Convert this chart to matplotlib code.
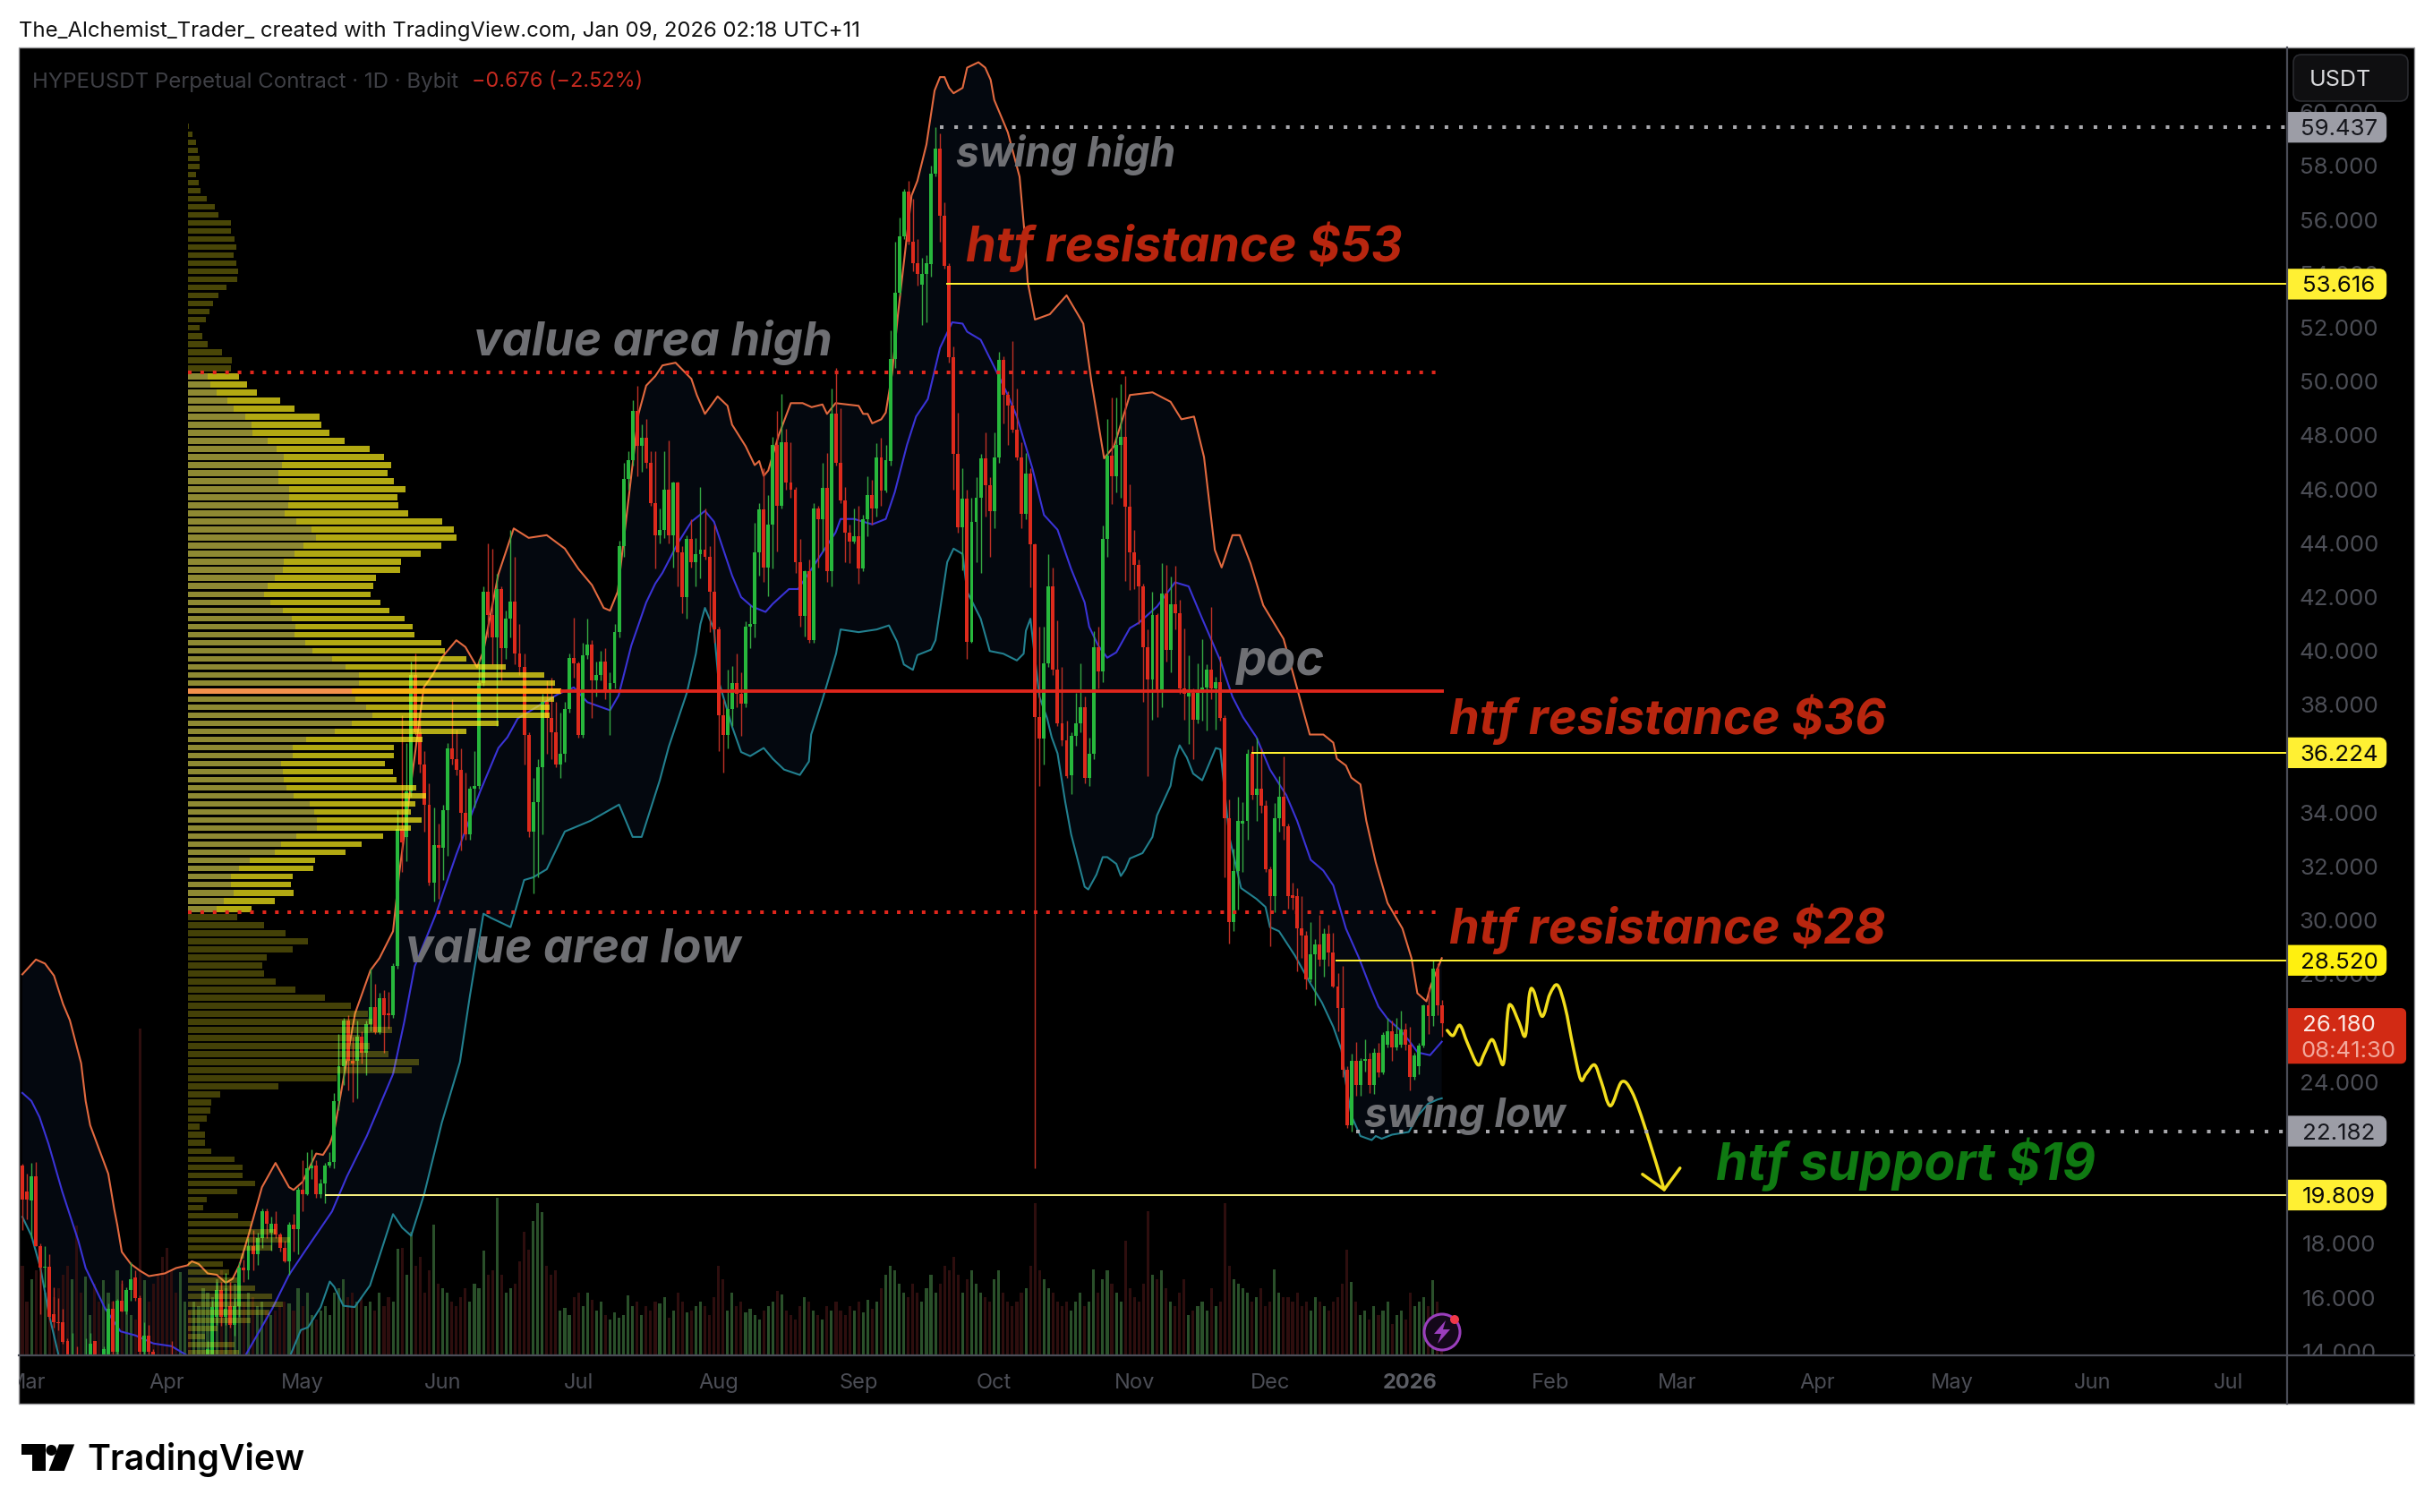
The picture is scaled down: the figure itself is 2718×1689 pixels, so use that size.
#!/usr/bin/env python
"""HYPEUSDT daily chart with volume profile and hand drawn levels."""

from datetime import datetime

import matplotlib
matplotlib.use("Agg")
import matplotlib.dates as mdates
import matplotlib.pyplot as plt
from matplotlib.patches import Circle, FancyBboxPatch, PathPatch, Polygon, Rectangle
from matplotlib.path import Path
import numpy as np

W, H = 2718, 1690
plt.rcParams["font.family"] = ["Inter", "Liberation Sans", "DejaVu Sans"]

first_day = "2025-02-28"

opens = [
    20.9,19.95,19.6,20.5,17.9,17.1,17.15,15.4,15.1,15.1,
    14.4,13.7,13.8,13.5,13.3,13.8,14.4,13.8,13.7,13.9,
    15.6,14.0,15.9,15.5,16.3,16.75,16.0,14.0,14.6,14.0,
    13.2,12.6,11.9,13.0,12.3,12.0,12.9,13.0,12.7,12.9,
    13.2,13.8,13.9,15.3,16.3,15.3,15.7,15.0,15.7,17.1,
    17.0,17.9,17.6,18.2,19.2,18.4,18.75,18.35,17.85,17.35,
    18.7,18.55,20.0,19.85,20.8,20.9,19.85,20.25,20.9,21.05,
    23.3,24.58,26.3,24.8,24.8,25.7,25.1,26.15,26.8,25.85,
    27.1,26.55,26.5,28.3,33.4,33.1,34.8,39.1,37.0,35.8,
    34.3,31.4,32.8,32.7,34.1,36.4,36.0,35.6,34.0,33.2,
    34.9,35.0,38.8,42.2,41.35,40.5,42.3,40.1,41.2,41.85,
    39.9,39.4,36.9,33.3,34.4,35.7,38.1,37.5,37.0,35.8,
    36.2,37.85,39.75,39.55,36.9,39.85,40.25,38.9,39.1,39.6,
    38.55,38.8,40.7,43.9,46.4,47.1,48.9,47.6,47.9,47.0,
    45.5,44.3,44.5,46.0,44.3,46.25,43.65,42.0,44.15,43.3,
    43.6,43.75,43.5,42.2,40.8,37.6,36.9,37.85,38.8,38.4,
    38.05,40.9,41.0,43.65,45.25,43.1,44.7,47.65,45.4,47.75,
    46.25,46.0,43.3,41.3,42.95,40.4,45.3,44.9,46.05,42.95,
    48.8,47.0,45.6,44.4,44.05,44.25,43.05,44.9,45.8,45.3,
    47.2,45.95,47.05,50.85,53.3,55.4,57.05,55.2,54.4,53.6,
    54.0,54.35,57.7,58.65,56.15,54.3,50.9,47.3,44.6,45.65,
    40.35,44.8,45.7,47.15,46.15,45.2,47.2,50.8,49.5,49.1,
    48.2,47.2,45.1,46.6,43.95,37.55,36.75,39.55,42.4,39.3,
    37.3,36.7,35.4,36.85,37.3,37.9,35.3,36.2,40.15,39.25,
    44.15,47.25,46.5,47.65,47.95,45.35,43.65,43.2,42.4,40.15,
    38.95,41.35,38.55,42.15,40.05,41.75,41.4,38.6,38.3,38.45,
    37.45,38.45,38.65,39.3,38.6,38.85,37.5,33.8,29.95,31.85,
    33.6,33.7,36.2,34.65,34.9,34.25,31.9,30.9,33.8,34.6,
    33.5,30.95,30.9,29.7,29.45,27.8,28.75,29.1,28.55,29.5,
    28.8,27.55,26.75,24.45,22.4,24.8,23.9,24.8,24.85,23.9,
    25.1,24.35,25.4,25.9,25.3,25.4,25.95,25.4,24.2,24.6,
    25.35,26.85,26.45,28.2,26.85,
]
closes = [
    19.65,19.65,20.5,17.9,17.1,17.15,15.3,15.1,15.05,14.35,
    13.9,13.8,13.5,13.3,13.6,14.3,13.8,13.6,14.1,15.6,
    14.0,15.9,15.5,16.3,16.7,16.0,14.0,14.6,14.0,13.2,
    12.6,11.9,11.2,12.3,12.0,12.9,13.0,12.7,12.9,13.2,
    13.5,14.1,15.65,16.3,15.3,15.6,15.0,15.7,17.1,17.0,
    17.9,17.6,18.2,19.2,18.75,18.75,18.35,17.85,17.35,18.7,
    18.55,20.0,19.85,20.8,20.9,19.85,20.25,20.9,21.05,23.3,
    24.6,26.3,24.8,24.7,25.7,25.1,26.15,26.8,25.85,27.1,
    26.5,26.5,28.3,33.4,32.9,34.8,39.1,37.0,35.8,34.3,
    31.4,32.8,32.7,34.1,36.4,36.0,35.6,34.0,33.2,34.9,
    35.0,38.8,42.2,41.35,40.5,42.3,40.1,41.2,41.85,39.9,
    39.4,36.9,33.3,34.4,35.7,38.1,37.5,37.0,35.8,36.2,
    37.85,39.75,39.55,36.9,39.85,40.25,38.9,39.1,39.6,38.55,
    38.8,40.7,43.9,46.4,47.1,48.9,47.6,47.9,47.0,45.5,
    44.3,44.5,46.0,44.3,46.25,43.65,42.0,44.15,43.3,43.6,
    43.75,43.5,42.2,40.8,37.6,36.9,37.85,38.8,38.4,38.05,
    40.9,41.0,43.65,45.25,43.1,44.7,47.65,45.4,47.75,46.25,
    46.0,43.3,41.3,42.95,40.4,45.3,44.9,46.05,42.95,48.8,
    47.0,45.6,44.4,44.05,44.25,43.05,44.9,45.8,45.3,47.2,
    45.95,47.1,50.85,53.3,55.4,57.05,55.2,54.4,54.0,54.0,
    54.4,57.7,58.65,56.15,54.3,50.9,47.3,44.6,45.65,40.35,
    44.8,45.7,47.15,46.15,45.2,47.2,50.8,49.5,49.1,48.2,
    47.2,45.1,46.6,43.95,37.55,36.75,39.55,42.4,39.3,37.3,
    36.7,35.35,36.85,37.3,37.9,35.3,36.2,40.15,39.25,44.15,
    47.25,46.5,47.65,47.95,45.35,43.65,43.2,42.4,40.15,38.95,
    41.35,38.55,42.15,40.05,41.75,41.4,38.6,38.4,38.45,37.45,
    38.45,38.65,39.3,38.6,38.85,37.5,33.8,29.95,31.85,33.7,
    33.7,36.2,34.65,34.9,34.25,31.9,30.9,33.8,34.6,33.5,
    30.9,30.85,29.7,29.45,27.8,28.75,29.1,28.55,29.5,28.8,
    27.55,26.75,24.45,22.4,24.8,23.9,24.8,24.85,23.9,25.1,
    24.35,25.75,25.9,25.3,25.8,25.95,25.4,24.2,25.0,25.35,
    26.85,26.45,28.2,26.85,26.18,
]
highs = [
    20.96,20.6,21.0,21.05,18.0,17.9,17.6,16.4,15.97,15.6,
    14.5,14.7,14.2,13.7,14.5,14.7,14.4,13.9,14.2,15.8,
    15.9,15.95,16.65,16.4,17.3,17.0,16.1,15.1,15.0,14.1,
    13.4,12.8,12.2,14.4,12.6,13.2,13.3,13.2,13.4,13.5,
    13.9,14.4,15.9,16.6,16.6,16.9,16.6,16.0,17.3,17.4,
    18.2,18.5,18.4,19.3,19.3,19.0,19.2,18.4,18.1,18.8,
    19.1,20.1,21.1,21.4,21.5,21.1,20.4,21.0,21.4,23.6,
    25.8,26.4,26.5,25.7,26.3,25.9,26.3,28.2,27.65,27.3,
    27.4,27.35,28.4,34.1,37.6,36.6,39.6,39.9,37.7,36.3,
    35.1,34.2,33.6,34.3,36.6,38.2,37.1,36.4,35.5,35.0,
    36.3,39.7,42.4,44.0,43.8,42.85,42.4,41.5,44.5,43.5,
    41.0,39.9,37.0,35.3,36.0,38.4,38.9,39.0,38.1,37.7,
    38.1,39.9,41.25,39.6,40.3,41.2,40.4,39.6,40.0,40.1,
    39.2,41.0,44.1,47.0,47.4,49.3,49.85,48.4,48.6,47.4,
    47.4,45.3,47.4,47.8,46.3,46.3,43.9,44.3,44.9,44.2,
    46.1,45.3,43.9,44.7,40.9,38.2,39.3,39.45,39.9,39.2,
    41.1,41.7,44.75,45.5,46.8,45.8,47.95,48.9,49.55,48.25,
    47.75,46.1,44.15,43.0,43.4,45.5,45.4,47.0,47.35,49.75,
    50.5,49.0,46.1,44.7,45.3,45.4,45.05,46.5,46.35,47.7,
    47.9,47.65,51.9,55.2,56.1,57.15,57.45,56.8,55.3,54.6,
    54.7,58.0,59.44,59.2,56.65,54.4,51.3,48.85,46.8,46.0,
    45.7,46.45,47.3,48.1,46.45,48.1,51.1,50.95,49.65,51.5,
    49.75,47.75,47.35,46.8,44.0,40.9,40.9,43.6,43.1,41.15,
    39.4,37.4,37.0,38.45,39.55,38.3,36.8,40.75,40.9,44.65,
    48.6,49.4,49.4,49.9,50.2,46.2,44.5,43.4,42.5,40.8,
    42.2,41.4,43.25,43.2,42.75,43.15,41.9,40.85,39.85,38.6,
    39.55,40.45,39.5,41.65,39.05,39.8,37.6,34.5,32.65,34.6,
    34.4,36.35,36.5,36.77,36.4,34.45,32.0,34.35,35.35,36.1,
    33.6,31.4,31.2,30.9,29.6,29.95,29.3,30.2,29.7,29.85,
    29.55,28.05,28.3,24.6,25.05,25.5,24.9,25.6,25.1,25.25,
    25.45,25.85,26.4,26.3,26.4,26.65,26.2,26.05,25.1,25.45,
    26.9,27.5,28.52,28.4,27.05,
]
lows = [
    18.5,18.9,18.2,17.9,15.4,16.4,15.2,14.9,14.8,14.3,
    13.6,13.5,13.2,13.0,13.2,13.6,13.5,13.3,13.5,13.5,
    13.7,13.7,15.5,15.4,15.9,15.9,13.9,13.7,13.7,12.8,
    12.3,11.5,10.9,12.0,11.7,11.8,12.6,12.4,12.5,12.7,
    13.0,13.6,13.8,15.0,14.95,15.0,14.9,14.6,15.3,16.6,
    16.7,17.0,17.2,17.85,18.2,17.75,18.2,17.7,17.3,16.85,
    17.7,17.6,19.2,19.8,20.4,19.7,19.7,19.5,20.85,20.8,
    22.95,23.9,23.7,23.25,23.4,24.7,24.25,25.9,25.8,25.8,
    25.1,26.0,26.4,28.2,31.8,32.2,34.6,36.9,35.5,33.3,
    31.3,30.7,30.8,31.5,32.4,35.8,35.4,32.6,33.0,33.0,
    34.2,34.9,38.7,40.5,39.5,37.2,38.9,39.7,40.5,39.5,
    39.1,35.8,33.1,31.0,31.6,33.2,36.2,36.0,35.7,35.3,
    35.9,37.7,39.0,36.8,36.8,39.7,37.5,38.3,38.9,38.2,
    36.9,38.6,40.5,43.5,46.0,46.9,46.5,46.65,46.8,45.4,
    43.05,44.0,44.2,44.0,43.1,42.4,41.4,41.2,43.1,42.4,
    42.7,43.4,40.7,40.3,36.3,35.5,36.4,37.2,37.9,36.85,
    37.9,40.1,40.5,42.8,42.55,42.05,43.05,43.7,45.3,46.0,
    45.7,42.9,40.9,40.55,40.3,40.3,43.1,43.7,42.55,42.4,
    46.9,45.5,43.3,43.25,44.0,42.5,42.95,44.25,44.7,45.0,
    45.4,45.9,46.9,50.5,53.2,55.3,55.1,54.1,53.55,52.1,
    52.2,53.9,57.6,55.2,54.2,50.7,46.0,44.4,43.0,39.7,
    40.3,43.3,42.9,45.0,43.5,44.55,47.0,48.45,47.65,48.1,
    47.1,44.55,44.9,42.35,20.8,35.0,35.8,39.4,39.1,37.2,
    36.5,35.3,34.7,36.5,37.0,35.1,35.0,36.0,38.6,38.85,
    43.5,45.45,45.9,45.7,42.6,42.25,42.3,41.0,38.1,35.35,
    37.45,37.55,37.9,39.6,39.2,40.8,38.4,37.45,36.55,36.0,
    37.3,37.4,37.05,38.2,37.1,37.4,31.6,29.15,29.6,30.4,
    31.8,33.0,34.5,33.7,34.0,31.8,29.05,30.3,33.3,33.0,
    30.45,30.4,28.1,28.6,27.45,27.7,26.85,28.3,27.9,28.3,
    27.5,25.9,24.2,22.3,22.18,23.5,23.5,24.4,23.6,23.55,
    24.2,24.3,25.3,24.8,25.2,25.3,25.2,23.7,24.1,24.3,
    25.3,25.8,26.1,26.5,25.7,
]
volumes = [
    100,60,85,95,100,70,90,65,75,90,
    100,85,145,70,88,45,80,60,84,70,
    60,95,80,50,45,40,365,84,60,80,
    90,110,120,95,70,93,60,50,60,55,
    75,70,65,85,95,75,85,80,90,60,
    70,65,55,60,50,45,50,55,60,58,
    50,75,55,70,45,40,50,55,45,70,
    75,85,65,70,60,65,55,60,50,70,
    55,65,60,119,120,90,138,100,110,70,
    95,146,80,75,70,60,55,65,75,60,
    80,75,117,90,95,176,90,70,75,80,
    105,138,118,150,170,160,100,90,95,50,
    53,45,65,70,55,70,62,50,60,45,
    40,48,42,45,67,55,60,45,55,50,
    60,58,65,42,50,70,60,48,50,55,
    60,55,45,65,100,85,50,70,55,60,
    48,52,45,40,50,55,60,72,68,50,
    45,40,55,65,60,50,45,40,55,50,
    60,50,45,55,50,60,48,62,52,60,
    75,90,100,95,80,70,65,80,70,60,
    75,90,70,80,100,95,110,90,70,85,
    95,80,70,65,60,85,95,70,60,55,
    60,70,75,100,170,95,85,75,70,60,
    55,60,50,60,70,55,60,96,70,85,
    95,80,70,60,128,75,65,60,80,161,
    90,85,95,75,60,55,70,85,45,50,
    55,60,50,75,55,60,170,100,85,80,
    75,70,60,65,75,55,60,96,70,65,
    65,60,70,55,60,50,65,60,55,50,
    60,65,80,118,82,60,45,50,40,55,
    45,50,60,35,45,50,40,70,55,60,
    65,55,84,60,35,
]

# bands: (candle number, price)
upper_band = [
    (0,28.0),(3,28.55),(5,28.4),(7,27.95),(9,26.9),(10.5,26.3),(13,24.7),(14,23.3),(15,22.4),(17,21.5),
    (19,20.6),(20.3,19.3),(21,18.7),(22,17.7),(24,17.25),(26,17.0),(28,16.8),(31.5,16.9),(34,17.1),(36.5,17.2),
    (37.5,17.35),(39,17.25),(41,16.9),(43,16.85),(45,16.55),(46.5,16.7),(48,17.2),(50,18.3),(53,20.1),(56,21.0),
    (59,20.1),(60,20.0),(62,20.3),(65,21.35),(66.5,21.3),(68,21.7),(69,22.2),(73.6,26.55),(77,28.15),(79,28.6),
    (82,29.6),(83.4,31.8),(88.8,38.65),(90.7,39.1),(93,39.8),(96,40.4),(98,40.15),(100.6,39.4),(102,40.0),(105.3,42.85),
    (108.7,44.55),(112,44.2),(116,44.3),(120,43.8),(123,43.05),(126,42.45),(128.6,41.6),(130,41.5),(131.7,42.2),(136.3,48.8),
    (138,49.85),(140,50.2),(141.6,50.6),(144.5,50.7),(148,50.1),(149.2,49.5),(151,48.8),(153.8,49.45),(156,49.1),(157,48.4),
    (160,47.6),(162,46.9),(163,47.05),(164,46.5),(165,46.7),(167.3,48.0),(170,49.2),(172.6,49.2),(174.6,49.05),(177,49.15),
    (178,48.8),(179.9,49.2),(185,49.1),(186,48.8),(187,48.8),(188,48.45),(190,48.6),(191,48.85),(192.4,50.3),(193.7,52.5),
    (196.7,56.9),(198,57.45),(200,58.8),(201.8,60.8),(203,61.3),(204,61.3),(205,60.9),(206,60.7),(208,60.9),(209,61.65),
    (211.5,61.85),(213,61.65),(214.2,61.2),(215,60.45),(218,59.25),(220.6,57.6),(221.6,55.7),(222.4,53.7),(224,52.3),(227.3,52.5),
    (231,53.2),(234.7,52.15),(236.5,50.0),(239.3,47.15),(241.5,47.6),(245,49.5),(250,49.6),(254,49.25),(256.4,48.6),(259.2,48.7),
    (261.4,47.2),(263.8,43.75),(265.3,43.1),(267.7,44.3),(269.3,44.3),(271.7,43.25),(274.5,41.7),(279,40.45),(283,38.0),(284.8,36.9),
    (287.8,36.9),(290,36.6),(290.8,36.0),(292.8,35.75),(294,35.3),(296,35.05),(297.3,33.7),(299.4,32.15),(302,30.65),(305.3,29.7),
    (307.3,28.6),(308.6,27.3),(310.6,27.0),(311.6,27.6),(314,28.6),
]
middle_band = [
    (0,23.6),(2,23.3),(3.8,22.7),(5.8,21.7),(8.8,19.95),(12.4,18.1),(14,17.1),(18.3,15.6),(21.7,14.75),(25,14.6),
    (29,14.3),(33,14.2),(36.5,13.85),(40,13.4),(45,13.3),(49.4,13.87),(55.3,15.6),(59,16.85),(62.6,17.75),(68.5,19.2),
    (71.8,20.5),(76.2,22.0),(82,24.3),(84.5,26.25),(86.8,28.3),(91.4,30.2),(96,32.45),(101.3,34.8),(105.3,36.4),(107.3,36.8),
    (109.6,37.5),(118.5,38.4),(122,38.65),(125,38.1),(130,37.8),(131.9,38.35),(134.7,40.2),(138,41.8),(140,42.5),(141.6,42.9),
    (145,44.0),(148,44.8),(151,45.2),(153,44.8),(157,42.8),(159,42.0),(161.4,41.65),(164.4,41.45),(166,41.75),(169.6,42.3),
    (171.6,42.3),(175,43.15),(179.9,44.4),(181,44.9),(184,44.9),(188,44.7),(191,44.9),(193,45.9),(195.7,47.65),(197.7,48.7),
    (200.3,49.35),(203,51.25),(205.7,52.2),(208,52.15),(209,51.85),(212,51.55),(216,50.2),(218,49.5),(220,48.7),(223.4,46.8),
    (226,45.05),(229,44.5),(232,43.05),(235,41.8),(236,40.9),(238,40.2),(240,39.75),(242,39.95),(245,40.85),(247,41.05),
    (251,41.65),(255,42.55),(258,42.4),(261,41.2),(265,39.65),(267.7,38.3),(270,37.55),(273,36.8),(276,35.6),(279.6,34.65),
    (282,33.7),(285,32.25),(287.8,31.85),(290,31.3),(292.8,29.7),(295.7,28.6),(298,27.6),(300,26.8),(302,26.35),(304.7,25.95),
    (306.7,25.55),(308.7,25.1),(311.4,25.0),(314,25.5),
]
lower_band = [
    (0,19.0),(2,18.3),(4,17.1),(6,15.3),(8,13.87),(14,12.0),(30,9.0),(45,10.0),(55,12.5),(59.3,13.87),
    (61.6,14.8),(63.2,14.9),(66,15.65),(68,16.6),(69,16.4),(71,15.7),(73.5,15.65),(76.9,16.45),(82,19.1),(84,18.6),
    (86,18.3),(88.9,19.85),(92.8,22.5),(96.8,24.75),(99,27.2),(102,30.25),(103.6,30.1),(108,29.75),(111,31.5),(113,31.6),
    (116,31.9),(120,33.3),(125.7,33.7),(132,34.3),(135,33.1),(137,33.1),(141,35.2),(143,36.45),(144.5,37.2),(147,38.45),
    (149,39.9),(150,41.0),(151,41.6),(153,40.8),(154,38.9),(157,37.2),(159,36.25),(161,36.1),(164,36.4),(166,36.0),
    (168.5,35.6),(172,35.4),(174,35.9),(174.5,36.9),(177,38.2),(180,39.9),(181,40.8),(185,40.7),(189,40.8),(191.7,40.95),
    (193.5,40.35),(195,39.5),(197,39.3),(198,39.85),(201,40.05),(202,40.4),(204.6,43.3),(206,43.8),(208,43.6),(209,42.2),
    (212,41.2),(214,40.0),(217,39.9),(220,39.65),(221.5,39.9),(222,40.75),(223,41.2),(225,38.3),(226.7,37.5),(227.7,36.8),
    (229,36.2),(230.7,34.4),(232,33.2),(235,31.25),(235.8,31.15),(237.6,31.7),(239,32.35),(240,32.35),(242,32.1),(243,31.65),
    (244,31.9),(245,32.3),(247.8,32.5),(250,33.1),(251,33.9),(254,35.0),(255,36.0),(256,36.5),(257.6,36.05),(259,35.45),
    (261,35.2),(264,36.4),(265,36.35),(267,33.1),(269.6,31.2),(273,30.8),(275,30.5),(276,29.75),(278,29.6),(281.5,28.7),
    (284.8,27.7),(287.5,26.95),(290,26.05),(291.8,25.2),(292.8,23.95),(294,22.75),(296,22.0),(298.5,21.85),(299.4,22.0),(300.7,21.9),
    (303,22.05),(306.7,22.15),(308.7,22.75),(311,23.2),(313,23.35),(314,23.4),
]

# volume profile, top row first, one row every 0.3 USDT
profile_top_price = 59.48
profile_step = 0.2995
profile_upper = [1,9,16,19,23,23,16,21,24,36,52,59,83,83,90,94,89,94,97,96,75,59,49,42,35,23,28,38,66,85,84]
va_buy = [
    39,43,56,77,89,111,124,125,155,172,186,183,176,176,197,197,195,188,211,240,249,225,207,186,185,169,155,148,160,185,
    202,209,207,228,242,280,306,333,333,319,326,347,359,319,286,230,204,204,181,184,186,192,205,237,246,251,251,211,181,169,
    120,99,83,83,89,70,56,
]
va_total = [
    99,115,134,179,207,256,259,275,305,354,381,395,388,401,423,408,409,428,495,517,523,493,453,415,413,366,361,355,374,392,
    421,437,441,493,500,542,618,693,714,726,712,704,703,605,542,456,401,401,383,399,406,444,463,442,434,455,434,380,338,306,
    247,244,204,200,205,169,124,
]
profile_lower = [
    96,148,190,233,204,153,144,148,171,209,266,317,351,359,397,334,354,390,449,435,289,176,63,46,43,36,22,33,33,45,
    90,107,106,130,95,36,29,97,124,170,199,164,110,68,81,95,131,164,185,159,122,57,33,90,99,
]
poc_row = 70

# levels
swing_high, swing_low = 59.437, 22.182
res_53, res_36, res_28, sup_19 = 53.616, 36.224, 28.520, 19.809
vah, val, poc = 50.33, 30.32, 38.52
last_price = 26.180

# projected path: (candle number, price)
path = [
    (315.2,25.92),(316.5,25.73),(318,26.11),(319.7,25.44),(322,24.64),(323.4,25.06),(325.1,25.58),(326.5,25.06),(327.7,24.72),(328.6,26.59),
    (329.4,26.84),(331.1,26.21),(332.5,25.73),(333.4,27.26),(334.3,27.39),(336.2,26.44),(337.9,27.26),(339.6,27.6),(341.3,26.78),(343,25.35),
    (344.7,24.11),(345.9,24.3),(347.8,24.64),(349.3,24.01),(351.3,23.12),(353.8,24.01),(356.1,23.63),(359,22.3),(363.2,20.01),
]
arrow_head = [(358.4,20.58),(363.2,20.01),(366.7,20.81)]

# ticks hidden behind the price tags are left out
price_ticks = [14,16,18,24,28,30,32,34,38,40,42,44,46,48,50,52,54,56,58,60]
month_dates = ["2025-03-01","2025-04-01","2025-05-01","2025-06-01","2025-07-01","2025-08-01","2025-09-01","2025-10-01",
               "2025-11-01","2025-12-01","2026-01-01","2026-02-01","2026-03-01","2026-04-01","2026-05-01","2026-06-01","2026-07-01"]
month_labels = ["Mar","Apr","May","Jun","Jul","Aug","Sep","Oct","Nov","Dec","2026","Feb","Mar","Apr","May","Jun","Jul"]

GREEN, RED = "#27b83c", "#dd2a1c"
AXIS_TXT = "#4c4e56"
RULE = "#4a4c56"


def rect(l, t, r, b):
    return [l / W, 1 - b / H, (r - l) / W, (b - t) / H]


fig = plt.figure(figsize=(W / 100, H / 100), dpi=100, facecolor="white")

L, R, T, PB, FB, FR = 21, 2555, 54, 1515, 1569, 2697
ymin, ymax = 13.86, 62.40
x0 = mdates.date2num(datetime.strptime(first_day, "%Y-%m-%d"))
xmin, xmax = x0 - 0.79, x0 + 501

ax = fig.add_axes(rect(L, T, R, PB), facecolor="black")
ax.set_xlim(xmin, xmax)
ax.set_ylim(ymin, ymax)
ax.axis("off")
fig.add_artist(Rectangle((L / W, 1 - FB / H), (FR - L) / W, (FB - T) / H, transform=fig.transFigure,
                         fc="black", ec="#9a9a9e", lw=1, zorder=-5))

days = x0 + np.arange(len(closes))
o, c, h, l = map(np.array, (opens, closes, highs, lows))
up = c >= o

ub_x, ub_y = zip(*upper_band)
mb_x, mb_y = zip(*middle_band)
lb_x, lb_y = zip(*lower_band)
ub_x, mb_x, lb_x = x0 + np.array(ub_x), x0 + np.array(mb_x), x0 + np.array(lb_x)

# band shading
ax.fill(np.r_[ub_x, lb_x[::-1]], np.r_[ub_y, lb_y[::-1]], color="#04080f", lw=0, zorder=1)

# volume lives on its own scale
ax_vol = fig.add_axes(rect(L, T, R, PB), facecolor="none")
ax_vol.set_xlim(xmin, xmax)
ax_vol.set_ylim(0, PB - T)
ax_vol.axis("off")
ax_vol.bar(days, volumes, width=0.62, color=np.where(up, "#2a502a", "#2e0e0e"), lw=0)

ax2 = fig.add_axes(rect(L, T, R, PB), facecolor="none")
ax2.set_xlim(xmin, xmax)
ax2.set_ylim(ymin, ymax)
ax2.axis("off")

ax2.plot(ub_x, ub_y, color="#e2693f", lw=1.5, zorder=2)
ax2.plot(mb_x, mb_y, color="#3a33d6", lw=1.5, zorder=2)
ax2.plot(lb_x, lb_y, color="#22808f", lw=1.5, zorder=2)

wick_col = np.where(up, "#35a842", "#bd3024")
ax2.vlines(days, l, h, colors=wick_col, lw=1.0, zorder=3)
ax2.bar(days, np.abs(c - o), bottom=np.minimum(o, c), width=0.78, color=np.where(up, GREEN, RED), lw=0, zorder=4)

# volume profile over the candles
ax_prof = fig.add_axes(rect(L, T, R, PB), facecolor="none")
ax_prof.set_xlim(-(210 - L) * 1.742, (R - 210) * 1.742)
n_rows = len(profile_upper) + len(va_total) + len(profile_lower)
row_prices = profile_top_price - profile_step * np.arange(n_rows)
ax_prof.set_ylim(ymin, ymax)
ax_prof.axis("off")
n_up = len(profile_upper)
n_va = len(va_total)
ax_prof.barh(row_prices[:n_up], profile_upper, height=0.215, color="#fff21a", alpha=0.29, lw=0)
va_p = row_prices[n_up:n_up + n_va]
buy = np.array(va_buy)
tot = np.array(va_total)
ax_prof.barh(va_p, buy, height=0.215, color="#ccc548", alpha=0.70, lw=0)
ax_prof.barh(va_p, tot - buy, left=buy, height=0.215, color="#fff21a", alpha=0.70, lw=0)
ax_prof.barh(row_prices[n_up + n_va:], profile_lower, height=0.215, color="#fff21a", alpha=0.27, lw=0)
ax_prof.barh(row_prices[poc_row], va_buy[poc_row - n_up], height=0.215, color="#ff9050", alpha=0.9, lw=0)
ax_prof.barh(row_prices[poc_row], va_total[poc_row - n_up] - va_buy[poc_row - n_up], left=va_buy[poc_row - n_up],
             height=0.215, color="#ffb010", alpha=0.9, lw=0)

# levels and labels on top of everything
ax_top = fig.add_axes(rect(L, T, R, PB), facecolor="none")
ax_top.set_xlim(xmin, xmax)
ax_top.set_ylim(ymin, ymax)
ax_top.axis("off")

profile_left = 36.6
for level, start, col, lw in [(res_53, 204.4, "#fff030", 2.0), (res_36, 271.9, "#fff030", 2.0),
                              (res_28, 290.6, "#fff030", 2.0), (sup_19, 67, "#f7ef80", 2.0)]:
    ax_top.hlines(level, x0 + start, xmax, colors=col, lw=lw * 0.72)
for level, start in [(swing_high, 203), (swing_low, 295)]:
    ax_top.hlines(level, x0 + start, xmax, colors="#a9a9ad", lw=2.9, linestyles=(0, (1, 3.0)))
for level in (vah, val):
    ax_top.hlines(level, x0 + profile_left, x0 + 313.2, colors="#e1261c", lw=2.9, linestyles=(0, (1, 2.45)))
# inside the profile the POC shows as the orange row itself
ax_top.hlines(poc, x0 + 119, x0 + 314.5, colors="#e1261c", lw=2.7)

px, py = zip(*path)
pts = np.column_stack([x0 + np.array(px), py])
# smooth freehand stroke: bezier handles through the read points
verts = [pts[0]]
codes = [Path.MOVETO]
for k in range(len(pts) - 1):
    before = pts[max(k - 1, 0)]
    after = pts[min(k + 2, len(pts) - 1)]
    verts += [pts[k] + (pts[k + 1] - before) / 6, pts[k + 1] - (after - pts[k]) / 6, pts[k + 1]]
    codes += [Path.CURVE4, Path.CURVE4, Path.CURVE4]
ax_top.add_patch(PathPatch(Path(verts, codes), fc="none", ec="#f2dd1c", lw=2.5, capstyle="round", joinstyle="round"))
hx, hy = zip(*arrow_head)
ax_top.plot(x0 + np.array(hx), hy, color="#f2dd1c", lw=2.5, solid_joinstyle="round", solid_capstyle="round")

GREY_TXT = "#6f7074"
notes = [
    ("swing high", 206.6, 58.03, GREY_TXT, 33.2),
    ("htf resistance $53", 208.8, 54.48, "#b8260f", 39),
    ("value area high", 99.8, 51.0, GREY_TXT, 38),
    ("poc", 268.5, 39.13, GREY_TXT, 39),
    ("htf resistance $36", 315.6, 36.94, "#b8260f", 39),
    ("htf resistance $28", 315.6, 29.16, "#b8260f", 39),
    ("value area low", 84.8, 28.48, GREY_TXT, 37.6),
    ("swing low", 296.8, 22.35, GREY_TXT, 33),
    ("htf support $19", 374.7, 20.39, "#0f7a12", 41),
]
for txt, i, p, col, size in notes:
    ax_top.text(x0 + i, p, txt, color=col, fontsize=size, fontweight="bold", fontstyle="italic", va="baseline", ha="left")

# chart legend line
ax_top.text(0.0058, 0.9745, "HYPEUSDT Perpetual Contract · 1D · Bybit", transform=ax_top.transAxes, color="#3f4046",
            fontsize=17.3, va="center")
ax_top.text(0.1995, 0.9745, "−0.676 (−2.52%)", transform=ax_top.transAxes, color="#c62a20", fontsize=16.9, va="center")

# price axis
ax_p = fig.add_axes(rect(R, T, FR, PB), facecolor="black")
ax_p.set_xlim(0, FR - R)
ax_p.set_ylim(ymin, ymax)
ax_p.axis("off")
units = 1 / 30.1
label_x = 58
label_drop = 0.05
for tick in price_ticks:
    ax_p.text(label_x, tick - label_drop, "%.3f" % tick, color=AXIS_TXT, fontsize=18.6, ha="center", va="center",
              clip_on=True, zorder=2)

for level, col, tc in [(swing_high, "#9c9da6", "#15161c"), (res_53, "#fff033", "#0a0a0a"), (res_36, "#fff033", "#0a0a0a"),
                       (res_28, "#fff00f", "#0a0a0a"), (swing_low, "#9c9da6", "#15161c"), (sup_19, "#fff033", "#0a0a0a")]:
    ax_p.add_patch(FancyBboxPatch((-10, level - 13 * units), 117, 26 * units, boxstyle="round,pad=0,rounding_size=4",
                                  mutation_aspect=units, fc=col, ec=col, lw=6, zorder=3))
    ax_p.text(label_x, level - label_drop, "%.3f" % level, color=tc, fontsize=18.6, ha="center", va="center", zorder=4)
ax_p.add_patch(FancyBboxPatch((-10, last_price - 43 * units), 141, 58 * units, boxstyle="round,pad=0,rounding_size=4",
                              mutation_aspect=units, fc="#d22a14", ec="#d22a14", lw=3, zorder=3))
ax_p.text(label_x, last_price - label_drop, "%.3f" % last_price, color="#fbe9e5", fontsize=18.6, ha="center", va="center", zorder=4)
ax_p.text(69, last_price - 29 * units - label_drop, "08:41:30", color="#f2a89c", fontsize=18.6, ha="center", va="center", zorder=4)

# time axis
ax_t = fig.add_axes(rect(L, PB, R, FB), facecolor="black")
ax_t.set_xlim(xmin, xmax)
ax_t.set_ylim(0, 1)
ax_t.axis("off")
for d, lab in zip(month_dates, month_labels):
    bold = lab == "2026"
    ax_t.text(mdates.date2num(datetime.strptime(d, "%Y-%m-%d")), 0.44, lab, color="#5c5e65" if bold else AXIS_TXT,
              fontsize=17, fontweight="bold" if bold else "normal", ha="center", va="center", clip_on=True)

# chrome in figure pixels
ov = fig.add_axes([0, 0, 1, 1], facecolor="none")
ov.set_xlim(0, W)
ov.set_ylim(H, 0)
ov.axis("off")
ov.plot([R, R], [T, FB], color=RULE, lw=1.6)
ov.plot([L, FR], [PB, PB], color=RULE, lw=1.6)
ov.add_patch(FancyBboxPatch((2562, 62), 128, 52, boxstyle="round,pad=0,rounding_size=9", fc="#0f0f11", ec="#2a2b30", lw=1.2))
ov.text(2580, 89, "USDT", color="#d8d9dc", fontsize=18, va="center", ha="left")

# replay badge
ov.add_patch(Circle((1611, 1489), 20, fc="#14081a", ec="#9a3ebc", lw=2.2))
ov.add_patch(Polygon([(1615, 1476), (1602, 1491), (1610, 1491), (1606, 1502), (1620, 1486), (1612, 1486)], fc="#9a3ebc", lw=0))
ov.add_patch(Circle((1625, 1475), 5, fc="#f0384a", lw=0))

ov.text(21, 35, "The_Alchemist_Trader_ created with TradingView.com, Jan 09, 2026 02:18 UTC+11", color="#111111",
        fontsize=17.2, va="center", ha="left")

# TradingView mark
ov.add_patch(Polygon([(24, 1614.4), (50.5, 1614.4), (50.5, 1644), (35.6, 1644), (35.6, 1626), (24, 1626)], fc="black", lw=0))
ov.add_patch(Circle((57.4, 1621), 6, fc="black", lw=0))
ov.add_patch(Polygon([(66, 1614.4), (83.2, 1614.4), (71.8, 1644), (54.5, 1644)], fc="black", lw=0))
ov.text(97, 1631, "TradingView", color="black", fontsize=28.3, fontweight="semibold", va="center", ha="left")

fig.savefig("out.png", dpi=100)
plt.close(fig)
